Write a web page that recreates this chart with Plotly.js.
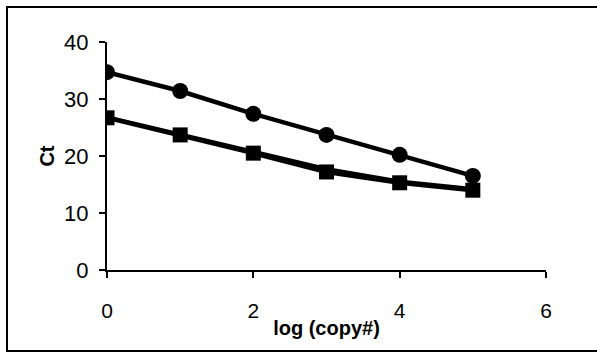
<!DOCTYPE html>
<html>
<head>
<meta charset="utf-8">
<script src="https://cdn.plot.ly/plotly-3.0.1.min.js"></script>
<style>
html,body{margin:0;padding:0;background:#fff;}
#wrap{position:relative;width:597px;height:352px;overflow:hidden;}
#chart{width:597px;height:352px;}
#frame{position:absolute;left:6px;top:6px;width:600px;height:342px;border:2px solid #000;pointer-events:none;}
</style>
</head>
<body>
<div id="wrap"><div id="chart"></div><div id="frame"></div></div>
<script>
const logCopy = [0, 1, 2, 3, 4, 5];
const ctCircle = [34.7, 31.4, 27.4, 23.7, 20.2, 16.5];
const ctSquare = [26.7, 23.7, 20.5, 17.2, 15.3, 14.0];
const ctSquare2 = [26.9, 23.9, 20.9, 17.8, 15.6, 14.3];
const xTicks = [0, 2, 4, 6];
const yTicks = [0, 10, 20, 30, 40];

const FONT = 'Liberation Sans, Arial, sans-serif';

const traces = [
  {x: logCopy, y: ctSquare2, mode: 'lines', line: {color: '#000', width: 3}, hoverinfo: 'none'},
  {x: logCopy, y: ctSquare, mode: 'lines+markers', line: {color: '#000', width: 4.5},
   marker: {symbol: 'square', size: 15, color: '#000'}},
  {x: logCopy, y: ctCircle, mode: 'lines+markers', line: {color: '#000', width: 4.5},
   marker: {symbol: 'circle', size: 16, color: '#000'}}
];

const layout = {
  width: 597, height: 352,
  margin: {l: 107, r: 51, t: 42, b: 82, pad: 0},
  paper_bgcolor: '#fff', plot_bgcolor: '#fff',
  showlegend: false,
  font: {family: FONT, color: '#000'},
  xaxis: {
    range: [0, 6], tickvals: xTicks, ticktext: xTicks.map(String),
    showgrid: false, zeroline: false, showline: true, linecolor: '#000', linewidth: 2,
    ticks: 'outside', ticklen: 6, tickwidth: 2, tickcolor: '#000',
    ticklabelstandoff: 15,
    tickfont: {size: 21, family: FONT},
    title: {text: '<b>log (copy#)</b>', font: {size: 20, family: FONT}, standoff: 0}
  },
  yaxis: {
    range: [0, 40], tickvals: yTicks, ticktext: yTicks.map(String),
    showgrid: false, zeroline: false, showline: true, linecolor: '#000', linewidth: 2,
    ticks: 'outside', ticklen: 6, tickwidth: 2, tickcolor: '#000',
    ticklabelstandoff: 6,
    tickfont: {size: 22, family: FONT},
    title: {text: '<b>Ct</b>', font: {size: 20, family: FONT}, standoff: 4}
  }
};

Plotly.newPlot('chart', traces, layout, {displayModeBar: false, staticPlot: true});
</script>
</body>
</html>
